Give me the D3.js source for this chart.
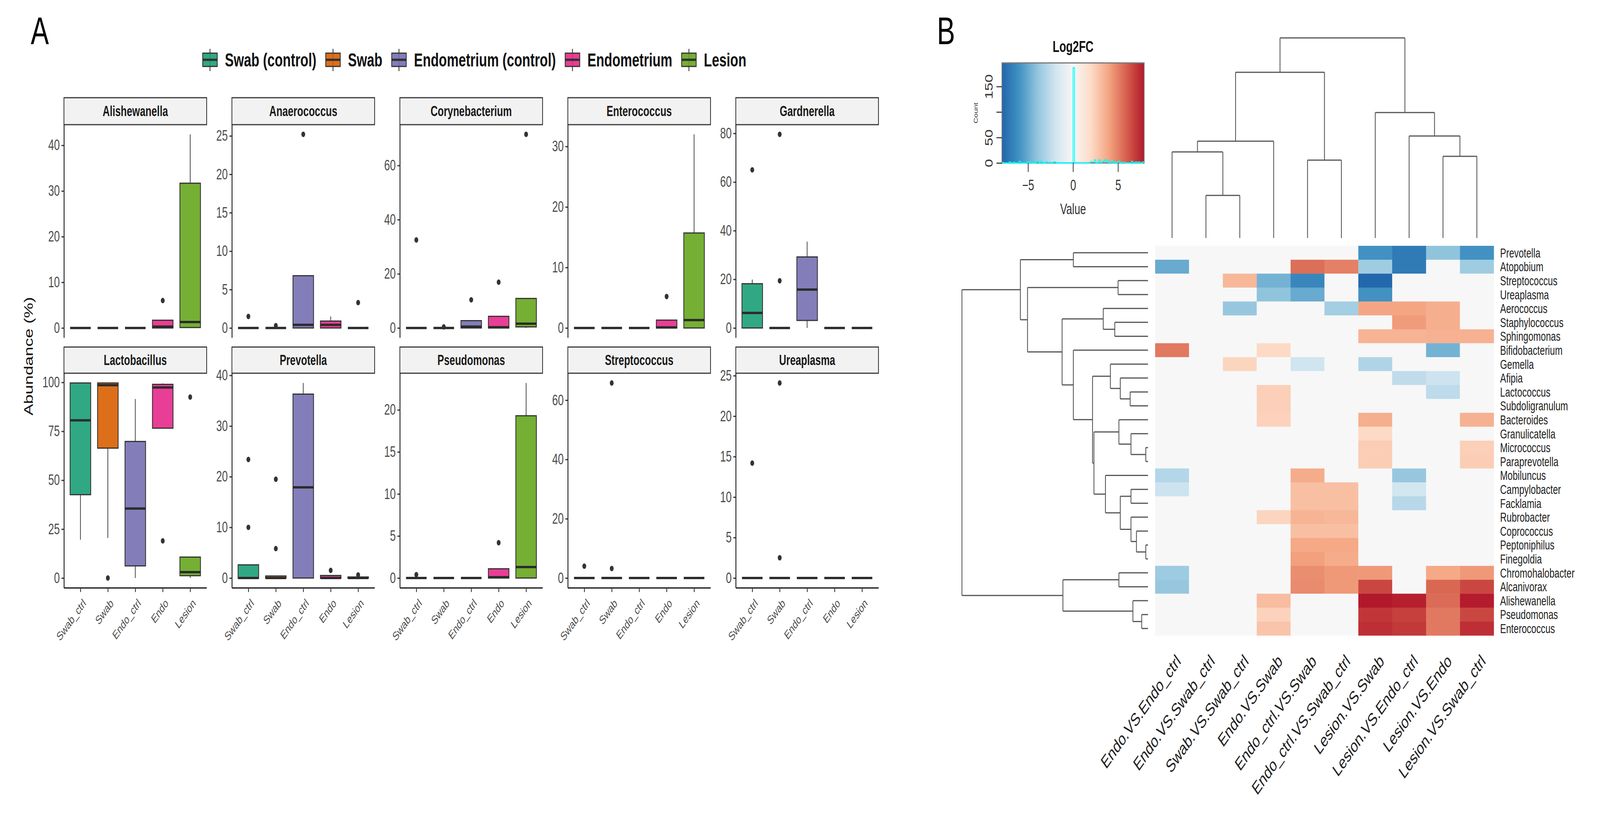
<!DOCTYPE html>
<html>
<head>
<meta charset="utf-8">
<script src="https://cdn.jsdelivr.net/npm/d3@7"></script>
<style>
  html, body { margin: 0; padding: 0; background: #fff; overflow: hidden; }
  svg { display: block; }
  text { font-family: "Liberation Sans", Arial, Helvetica, sans-serif; }
</style>
</head>
<body>
<div id="container"></div>
<script>
/* ---------- panel A data ---------- */
var genera = ['Alishewanella', 'Anaerococcus', 'Corynebacterium', 'Enterococcus', 'Gardnerella',
  'Lactobacillus', 'Prevotella', 'Pseudomonas', 'Streptococcus', 'Ureaplasma']
var groups = ['Swab_ctrl', 'Swab', 'Endo_ctrl', 'Endo', 'Lesion']
var groupNames = ['Swab (control)', 'Swab', 'Endometrium (control)', 'Endometrium', 'Lesion']
var groupColours = ['#1B9E77', '#D95F02', '#7570B3', '#E7298A', '#66A61E']

// box statistics, one row per genus, one column per group
var whiskerLow = [
  [0, 0, 0, 0, 0],
  [0, 0, 0, 0, 0],
  [0, 0, 0, 0, 0],
  [0, 0, 0, 0, 0],
  [0, 0, 0, 0, 0],
  [19.6, 20.5, 0, 76.6, 0],
  [0, 0, 0, 0, 0],
  [0, 0, 0, 0, 0],
  [0, 0, 0, 0, 0],
  [0, 0, 0, 0, 0]
]
var quartile1 = [
  [0, 0, 0, 0, 0.1],
  [0, 0, 0, 0, 0],
  [0, 0, 0, 0, 0.4],
  [0, 0, 0, 0, 0],
  [0, 0, 3.1, 0, 0],
  [42.6, 66.4, 6.2, 76.6, 1.2],
  [0, 0, 0, 0, 0],
  [0, 0, 0, 0, 0],
  [0, 0, 0, 0, 0],
  [0, 0, 0, 0, 0]
]
var medians = [
  [0, 0, 0, 0.3, 1.3],
  [0, 0, 0.4, 0.4, 0],
  [0, 0, 0.5, 0.3, 1.6],
  [0, 0, 0, 0.1, 1.3],
  [6.2, 0, 15.8, 0, 0],
  [80.6, 98.6, 35.5, 97.4, 3.0],
  [0, 0, 17.9, 0, 0],
  [0, 0, 0, 0.1, 1.3],
  [0, 0, 0, 0, 0],
  [0, 0, 0, 0, 0]
]
var quartile3 = [
  [0, 0, 0, 1.7, 31.7],
  [0, 0, 6.8, 0.9, 0],
  [0, 0, 2.7, 4.3, 10.9],
  [0, 0, 0, 1.3, 15.7],
  [18.2, 0, 29.2, 0, 0],
  [99.7, 99.7, 69.8, 99.0, 10.7],
  [2.6, 0.4, 36.3, 0.5, 0.2],
  [0, 0, 0, 1.1, 19.3],
  [0, 0, 0, 0, 0],
  [0, 0, 0, 0, 0]
]
var whiskerHigh = [
  [0, 0, 0, 1.7, 42.4],
  [0, 0, 6.8, 1.5, 0],
  [0, 0, 2.7, 4.3, 10.9],
  [0, 0, 0, 1.3, 32.0],
  [19.9, 0, 35.5, 0, 0],
  [99.7, 99.7, 91.5, 99.5, 10.7],
  [2.6, 0.4, 38.5, 0.5, 0.2],
  [0, 0, 0, 1.1, 23.2],
  [0, 0, 0, 0, 0],
  [0, 0, 0, 0, 0]
]
var outliers = [
  [[], [], [], [6.0], []],
  [[1.5], [0.3], [25.2], [], [3.3]],
  [[32.5], [0.4], [10.4], [16.9], [71.5]],
  [[], [], [], [5.2], []],
  [[65.0], [79.6, 19.4], [], [], []],
  [[], [0], [], [19.0], [92.5]],
  [[23.4, 10.0], [19.5, 5.8], [], [1.5], [0.6]],
  [[0.4], [], [], [4.2], []],
  [[4.0], [65.8, 3.2], [], [], []],
  [[14.2], [24.1, 2.5], [], [], []]
]
var yTicks = [
  [0, 10, 20, 30, 40], [0, 5, 10, 15, 20, 25], [0, 20, 40, 60], [0, 10, 20, 30], [0, 20, 40, 60, 80],
  [0, 25, 50, 75, 100], [0, 10, 20, 30, 40], [0, 5, 10, 15, 20], [0, 20, 40, 60], [0, 5, 10, 15, 20, 25]
]

/* ---------- panel B data ---------- */
var rowNames = ['Prevotella', 'Atopobium', 'Streptococcus', 'Ureaplasma', 'Aerococcus', 'Staphylococcus',
  'Sphingomonas', 'Bifidobacterium', 'Gemella', 'Afipia', 'Lactococcus', 'Subdoligranulum', 'Bacteroides',
  'Granulicatella', 'Micrococcus', 'Paraprevotella', 'Mobiluncus', 'Campylobacter', 'Facklamia',
  'Rubrobacter', 'Coprococcus', 'Peptoniphilus', 'Finegoldia', 'Chromohalobacter', 'Alcanivorax',
  'Alishewanella', 'Pseudomonas', 'Enterococcus']
var colNames = ['Endo.VS.Endo_ctrl', 'Endo.VS.Swab_ctrl', 'Swab.VS.Swab_ctrl', 'Endo.VS.Swab',
  'Endo_ctrl.VS.Swab', 'Endo_ctrl.VS.Swab_ctrl', 'Lesion.VS.Swab', 'Lesion.VS.Endo_ctrl',
  'Lesion.VS.Endo', 'Lesion.VS.Swab_ctrl']
var log2fc = [
  [0, 0, 0, 0, 0, 0, -6, -7, -4, -6], // Prevotella
  [-5, 0, 0, 0, 5.5, 5, -3.5, -7, 0, -3.5], // Atopobium
  [0, 0, 3.3, -4.7, -6.5, 0, -7.8, 0, 0, 0], // Streptococcus
  [0, 0, 0, -4, -5, 0, -6, 0, 0, 0], // Ureaplasma
  [0, 0, -3.8, 0, 0, -3.4, 3.9, 3.9, 3.6, 0], // Aerococcus
  [0, 0, 0, 0, 0, 0, 0, 4.2, 3.6, 0], // Staphylococcus
  [0, 0, 0, 0, 0, 0, 3.4, 3.4, 3.5, 3.5], // Sphingomonas
  [5.2, 0, 0, 2, 0, 0, 0, 0, -4.7, 0], // Bifidobacterium
  [0, 0, 2.2, 0, -2, 0, -3, 0, 0, 0], // Gemella
  [0, 0, 0, 0, 0, 0, 0, -2.5, -2.1, 0], // Afipia
  [0, 0, 0, 2.4, 0, 0, 0, 0, -2.6, 0], // Lactococcus
  [0, 0, 0, 2.4, 0, 0, 0, 0, 0, 0], // Subdoligranulum
  [0, 0, 0, 2.3, 0, 0, 3.6, 0, 0, 3.5], // Bacteroides
  [0, 0, 0, 0, 0, 0, 2, 0, 0, 0], // Granulicatella
  [0, 0, 0, 0, 0, 0, 2.5, 0, 0, 2.4], // Micrococcus
  [0, 0, 0, 0, 0, 0, 2.5, 0, 0, 2.5], // Paraprevotella
  [-2.9, 0, 0, 0, 3.7, 0, 0, -3.8, 0, 0], // Mobiluncus
  [-2.1, 0, 0, 0, 3, 3, 0, -1.9, 0, 0], // Campylobacter
  [0, 0, 0, 0, 3, 3, 0, -2.8, 0, 0], // Facklamia
  [0, 0, 0, 2.2, 3.4, 3.3, 0, 0, 0, 0], // Rubrobacter
  [0, 0, 0, 0, 3, 3, 0, 0, 0, 0], // Coprococcus
  [0, 0, 0, 0, 3.8, 3.8, 0, 0, 0, 0], // Peptoniphilus
  [0, 0, 0, 0, 4.1, 3.7, 0, 0, 0, 0], // Finegoldia
  [-3.6, 0, 0, 0, 4.6, 4.3, 4.3, 0, 3.8, 4.3], // Chromohalobacter
  [-3.8, 0, 0, 0, 4.7, 4.3, 6.6, 0, 5.7, 6.6], // Alcanivorax
  [0, 0, 0, 3.1, 0, 0, 7.9, 7.7, 5.6, 7.8], // Alishewanella
  [0, 0, 0, 2.3, 0, 0, 7.1, 6.8, 5.2, 6.6], // Pseudomonas
  [0, 0, 0, 2.8, 0, 0, 7.3, 7.0, 5.2, 7.3] // Enterococcus
]
// dendrograms as [height, left, right]
var rowTree = [678,
  [465, [272, 'Prevotella', 'Atopobium'],
    [439, [109, 'Streptococcus', 'Ureaplasma'],
      [313, [163, 'Aerococcus', [121, 'Staphylococcus', 'Sphingomonas']],
        [272, 'Bifidobacterium',
          [202, [137, 'Gemella', [101, 'Afipia', [65, 'Lactococcus', 'Subdoligranulum']]],
            [197, [106, 'Bacteroides', [62, 'Granulicatella', [8, 'Micrococcus', 'Paraprevotella']]],
              [155, 'Mobiluncus', [101, [62, 'Campylobacter', 'Facklamia'],
                [62, 'Rubrobacter', [42, 'Coprococcus', [8, 'Peptoniphilus', 'Finegoldia']]]]]]]]]]],
  [310, [106, 'Chromohalobacter', 'Alcanivorax'], [55, 'Alishewanella', [23, 'Pseudomonas', 'Enterococcus']]]
]
var colTree = [10,
  [8.28, [4.84, [4.30, 'Endo.VS.Endo_ctrl', [2.13, 'Endo.VS.Swab_ctrl', 'Swab.VS.Swab_ctrl']], 'Endo.VS.Swab'],
    [3.89, 'Endo_ctrl.VS.Swab', 'Endo_ctrl.VS.Swab_ctrl']],
  [6.27, 'Lesion.VS.Swab', [5.10, 'Lesion.VS.Endo_ctrl', [4.08, 'Lesion.VS.Endo', 'Lesion.VS.Swab_ctrl']]]
]
var rdbu = ['#2166ac', '#4393c3', '#92c5de', '#d1e5f0', '#f7f7f7', '#fddbc7', '#f4a582', '#d6604d', '#b2182b']
var keyValueTicks = [-5, 0, 5]
var keyCountTicks = [0, 50, 100, 150]
var keyCountLabels = ['0', '50', '', '150']

/* ---------- svg, drawn in 5830 x 2088 units and fitted to the window ---------- */
var width = 5830
var height = 2088
var svg = d3.select('#container').append('svg')
  .attr('width', innerWidth)
  .attr('height', innerHeight)
  .attr('viewBox', '0 0 ' + width + ' ' + height)
  .attr('preserveAspectRatio', 'none')

svg.append('text').attr('x', 112).attr('y', 113).attr('font-size', 99).text('A')
svg.append('text').attr('x', 3414).attr('y', 113).attr('font-size', 99).text('B')

/* ---------- panel A ---------- */
var facetLeft = 233
var facetStep = 612
var facetW = 520
var stripTop = [250, 888]
var panelTop = [319, 955]
var panelBottom = [864, 1504]

var legend = svg.append('g').attr('class', 'legend')
var keyW = 53
var xCursor = 0
groupNames.forEach(function (name, i) {
  var item = legend.append('g').attr('transform', 'translate(' + xCursor + ',0)')
  item.append('line').attr('x1', keyW / 2).attr('x2', keyW / 2).attr('y1', 125).attr('y2', 182)
    .attr('stroke', '#333').attr('stroke-width', 3)
  item.append('rect').attr('x', 0).attr('y', 136).attr('width', keyW).attr('height', 34)
    .attr('fill', groupColours[i]).attr('fill-opacity', 0.9).attr('stroke', '#333').attr('stroke-width', 3)
  item.append('line').attr('x1', 0).attr('x2', keyW).attr('y1', 153).attr('y2', 153)
    .attr('stroke', '#333').attr('stroke-width', 6)
  var t = item.append('text').attr('x', keyW + 28).attr('y', 170).attr('font-size', 48)
    .attr('font-weight', 'bold').attr('fill', '#111').text(name)
  xCursor += keyW + 28 + t.node().getComputedTextLength() + 34
})
var legendW = xCursor - 34
legend.attr('transform', 'translate(' + (1729 - legendW / 2) + ',0)')

svg.append('text')
  .attr('transform', 'translate(120,' + ((panelTop[0] + panelBottom[1]) / 2) + ') rotate(-90)')
  .attr('text-anchor', 'middle').attr('font-size', 44).attr('fill', '#111')
  .text('Abundance (%)')

genera.forEach(function (genus, gi) {
  var r = Math.floor(gi / 5)
  var c = gi % 5
  var g = svg.append('g').attr('transform', 'translate(' + (facetLeft + c * facetStep) + ',0)')

  g.append('rect').attr('x', 0).attr('y', stripTop[r]).attr('width', facetW)
    .attr('height', panelTop[r] - stripTop[r])
    .attr('fill', '#f2f2f2').attr('stroke', '#3a3a3a').attr('stroke-width', 3)
  g.append('text').attr('x', facetW / 2).attr('y', (stripTop[r] + panelTop[r]) / 2)
    .attr('dy', '0.36em').attr('text-anchor', 'middle').attr('font-size', 36)
    .attr('font-weight', 'bold').attr('fill', '#1a1a1a').text(genus)

  var x = d3.scalePoint().domain(groups).range([0, facetW]).padding(0.6)
  var vals = whiskerLow[gi].concat(whiskerHigh[gi], d3.merge(outliers[gi]))
  var lo = d3.min(vals)
  var hi = d3.max(vals)
  var pad = (hi - lo) * 0.05
  var y = d3.scaleLinear().domain([lo - pad, hi + pad]).range([panelBottom[r], panelTop[r]])

  var yAxis = g.append('g').call(d3.axisLeft(y).tickValues(yTicks[gi]).tickSize(9).tickSizeOuter(0).tickPadding(6))
  yAxis.select('.domain').attr('stroke', '#111').attr('stroke-width', 3)
  yAxis.selectAll('.tick line').attr('stroke', '#333').attr('stroke-width', 3)
  yAxis.selectAll('.tick text').attr('font-size', 38).attr('fill', '#4d4d4d')
    .style('font-family', '"Liberation Sans", Arial, sans-serif')

  if (r === 1) {
    var xAxis = g.append('g').attr('transform', 'translate(0,' + panelBottom[r] + ')')
      .call(d3.axisBottom(x).tickSize(11).tickSizeOuter(0))
    xAxis.select('.domain').attr('stroke', '#111').attr('stroke-width', 3)
    xAxis.selectAll('.tick line').attr('stroke', '#333').attr('stroke-width', 3)
    xAxis.selectAll('.tick text')
      .attr('x', 0).attr('y', 0).attr('dy', '0.35em')
      .attr('text-anchor', 'end')
      .attr('transform', 'translate(14,34) rotate(-45)')
      .attr('font-size', 31).attr('fill', '#4d4d4d')
      .style('font-family', '"Liberation Sans", Arial, sans-serif')
  }

  var boxW = x.step() * 0.75
  groups.forEach(function (grp, k) {
    var cx = x(grp)
    var b = g.append('g')
    b.append('line').attr('x1', cx).attr('x2', cx)
      .attr('y1', y(whiskerLow[gi][k])).attr('y2', y(quartile1[gi][k]))
      .attr('stroke', '#333').attr('stroke-width', 2.5)
    b.append('line').attr('x1', cx).attr('x2', cx)
      .attr('y1', y(quartile3[gi][k])).attr('y2', y(whiskerHigh[gi][k]))
      .attr('stroke', '#333').attr('stroke-width', 2.5)
    b.append('rect').attr('x', cx - boxW / 2).attr('width', boxW)
      .attr('y', y(quartile3[gi][k])).attr('height', y(quartile1[gi][k]) - y(quartile3[gi][k]))
      .attr('fill', groupColours[k]).attr('fill-opacity', 0.9)
      .attr('stroke', '#333').attr('stroke-width', 3)
    b.append('line').attr('x1', cx - boxW / 2).attr('x2', cx + boxW / 2)
      .attr('y1', y(medians[gi][k])).attr('y2', y(medians[gi][k]))
      .attr('stroke', '#2b2b2b').attr('stroke-width', 6)
    b.selectAll('circle').data(outliers[gi][k]).enter().append('circle')
      .attr('cx', cx).attr('cy', function (d) { return y(d) })
      .attr('r', 7).attr('fill', '#333')
  })
})

/* ---------- panel B: heatmap ---------- */
var maxAbs = d3.max(log2fc, function (row) { return d3.max(row, function (v) { return Math.abs(v) }) })
var colour = d3.scaleLinear()
  .domain(d3.range(rdbu.length).map(function (i) { return -maxAbs + i * 2 * maxAbs / (rdbu.length - 1) }))
  .range(rdbu)
  .clamp(true)

var xCol = d3.scaleBand().domain(colNames).range([4209, 5443])
var yRow = d3.scaleBand().domain(rowNames).range([629, 1626])

var hm = svg.append('g').attr('class', 'heatmap')
rowNames.forEach(function (rn, i) {
  hm.selectAll(null).data(log2fc[i]).enter().append('rect')
    .attr('x', function (d, j) { return xCol(colNames[j]) })
    .attr('y', yRow(rn))
    .attr('width', xCol.bandwidth() + 0.5)
    .attr('height', yRow.bandwidth() + 0.5)
    .attr('fill', function (d) { return colour(d) })
})

hm.selectAll('text.rowlab').data(rowNames).enter().append('text')
  .attr('class', 'rowlab')
  .attr('x', 5466)
  .attr('y', function (d) { return yRow(d) + yRow.bandwidth() / 2 })
  .attr('dy', '0.36em')
  .attr('font-size', 33)
  .attr('fill', '#222')
  .text(function (d) { return d })

hm.selectAll('text.collab').data(colNames).enter().append('text')
  .attr('class', 'collab')
  .attr('text-anchor', 'end')
  .attr('transform', function (d) {
    return 'translate(' + (xCol(d) + xCol.bandwidth() / 2 + 12) + ',1672) rotate(-45)'
  })
  .attr('dy', '0.7em')
  .attr('font-size', 46)
  .attr('fill', '#222')
  .text(function (d) { return d })

function layoutTree (node, leafPos) {
  if (typeof node === 'string') return { pos: leafPos(node), h: 0 }
  var a = layoutTree(node[1], leafPos)
  var b = layoutTree(node[2], leafPos)
  return { pos: (a.pos + b.pos) / 2, h: node[0], kids: [a, b] }
}
function treeSegments (n, out) {
  if (!n.kids) return out
  n.kids.forEach(function (k) {
    out.push([k.pos, k.h, k.pos, n.h])
    treeSegments(k, out)
  })
  out.push([n.kids[0].pos, n.h, n.kids[1].pos, n.h])
  return out
}

var colRoot = layoutTree(colTree, function (name) { return xCol(name) + xCol.bandwidth() / 2 })
var colH = d3.scaleLinear().domain([0, colTree[0]]).range([609, 97])
svg.append('g').selectAll('line').data(treeSegments(colRoot, [])).enter().append('line')
  .attr('x1', function (s) { return s[0] }).attr('y1', function (s) { return colH(s[1]) })
  .attr('x2', function (s) { return s[2] }).attr('y2', function (s) { return colH(s[3]) })
  .attr('stroke', '#555').attr('stroke-width', 3)

var rowRoot = layoutTree(rowTree, function (name) { return yRow(name) + yRow.bandwidth() / 2 })
var rowH = d3.scaleLinear().domain([0, rowTree[0]]).range([4183, 3505])
svg.append('g').selectAll('line').data(treeSegments(rowRoot, [])).enter().append('line')
  .attr('x1', function (s) { return rowH(s[1]) }).attr('y1', function (s) { return s[0] })
  .attr('x2', function (s) { return rowH(s[3]) }).attr('y2', function (s) { return s[2] })
  .attr('stroke', '#555').attr('stroke-width', 3)

/* ---------- colour key ---------- */
var keyX = d3.scaleLinear().domain([-maxAbs, maxAbs]).range([3651, 4169])
var allVals = d3.merge(log2fc)
var bins = d3.bin().domain([-maxAbs, maxAbs])
  .thresholds(d3.range(1, 100).map(function (i) { return -maxAbs + i * 2 * maxAbs / 100 }))(allVals)
var keyY = d3.scaleLinear().domain([0, d3.max(bins, function (b) { return b.length }) * 1.05]).range([417, 161])

var grad = svg.append('defs').append('linearGradient').attr('id', 'keygrad')
  .attr('x1', '0%').attr('x2', '100%').attr('y1', '0%').attr('y2', '0%')
colour.domain().forEach(function (v) {
  grad.append('stop').attr('offset', ((v + maxAbs) / (2 * maxAbs) * 100) + '%').attr('stop-color', colour(v))
})
var key = svg.append('g').attr('class', 'key')
key.append('rect').attr('x', 3651).attr('y', 161).attr('width', 518).attr('height', 256)
  .attr('fill', 'url(#keygrad)').attr('stroke', '#777').attr('stroke-width', 3)

var histLine = d3.line().curve(d3.curveStepAfter)
  .x(function (d) { return keyX(d[0]) }).y(function (d) { return keyY(d[1]) })
var histPts = bins.map(function (b) { return [b.x0, b.length] })
histPts.push([bins[bins.length - 1].x1, bins[bins.length - 1].length])
key.append('path').attr('d', histLine(histPts)).attr('fill', 'none')
  .attr('stroke', '#00ffff').attr('stroke-width', 3)

var kx = key.append('g').attr('transform', 'translate(0,417)')
  .call(d3.axisBottom(keyX).tickValues(keyValueTicks).tickSize(23).tickPadding(20).tickSizeOuter(0))
kx.select('.domain').remove()
kx.selectAll('.tick line').attr('stroke', '#444').attr('stroke-width', 3)
kx.selectAll('.tick text').attr('font-size', 38).attr('fill', '#333')
  .style('font-family', '"Liberation Sans", Arial, sans-serif')

var ky = key.append('g').attr('transform', 'translate(3651,0)')
  .call(d3.axisLeft(keyY).tickValues(keyCountTicks).tickSize(20).tickPadding(10).tickSizeOuter(0)
    .tickFormat(function (d, i) { return keyCountLabels[i] }))
ky.select('.domain').remove()
ky.selectAll('.tick line').attr('stroke', '#444').attr('stroke-width', 3)
ky.selectAll('.tick text').attr('font-size', 38).attr('fill', '#333')
  .attr('text-anchor', 'middle').attr('x', -34).attr('dy', 0)
  .attr('transform', 'rotate(-90,-34,0)')
  .style('font-family', '"Liberation Sans", Arial, sans-serif')

key.append('text').attr('x', 3910).attr('y', 133).attr('text-anchor', 'middle')
  .attr('font-size', 40).attr('font-weight', 'bold').attr('fill', '#111').text('Log2FC')
key.append('text').attr('x', 3910).attr('y', 548).attr('text-anchor', 'middle')
  .attr('font-size', 38).attr('fill', '#333').text('Value')
key.append('text').attr('transform', 'translate(3563,289) rotate(-90)').attr('text-anchor', 'middle')
  .attr('font-size', 20).attr('fill', '#333').text('Count')
</script>
</body>
</html>
